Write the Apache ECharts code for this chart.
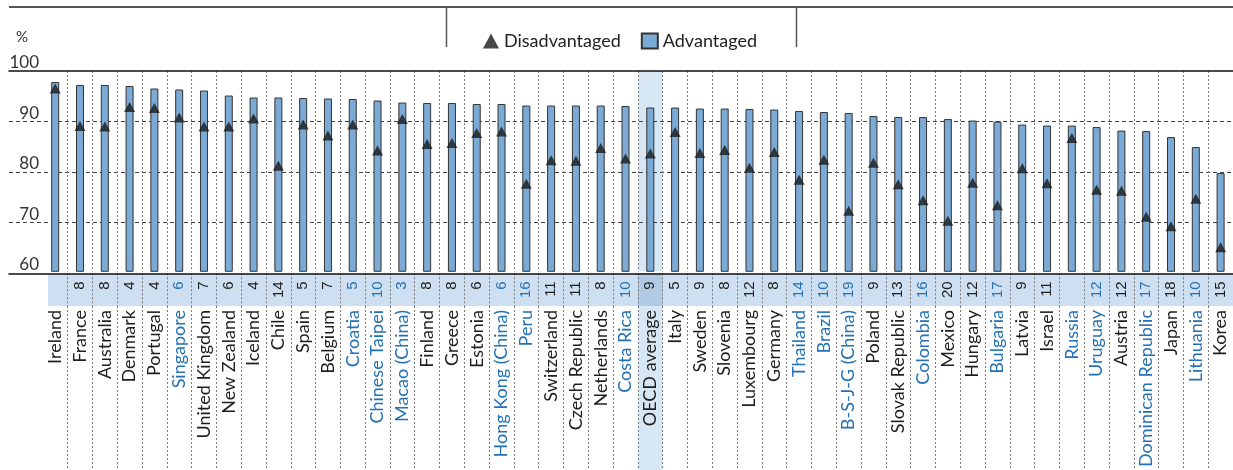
<!DOCTYPE html>
<html>
<head>
<meta charset="utf-8">
<script src="https://cdn.jsdelivr.net/npm/echarts@6/dist/echarts.min.js"></script>
<style>
  html, body { margin: 0; padding: 0; background: #ffffff; }
  #chart { width: 1233px; height: 470px; }
</style>
</head>
<body>
<div id="chart"></div>
<script>
// Countries / economies, sorted by the share among advantaged students
const categories = [
  'Ireland', 'France', 'Australia', 'Denmark', 'Portugal', 'Singapore', 'United Kingdom',
  'New Zealand', 'Iceland', 'Chile', 'Spain', 'Belgium', 'Croatia', 'Chinese Taipei',
  'Macao (China)', 'Finland', 'Greece', 'Estonia', 'Hong Kong (China)', 'Peru', 'Switzerland',
  'Czech Republic', 'Netherlands', 'Costa Rica', 'OECD average', 'Italy', 'Sweden', 'Slovenia',
  'Luxembourg', 'Germany', 'Thailand', 'Brazil', 'B-S-J-G (China)', 'Poland', 'Slovak Republic',
  'Colombia', 'Mexico', 'Hungary', 'Bulgaria', 'Latvia', 'Israel', 'Russia', 'Uruguay',
  'Austria', 'Dominican Republic', 'Japan', 'Lithuania', 'Korea'
];

// Percentage of advantaged students (bars)
const advantaged = [
  97.8, 97.2, 97.2, 97.0, 96.5, 96.3, 96.1,
  95.1, 94.7, 94.7, 94.6, 94.5, 94.4, 94.1,
  93.7, 93.6, 93.6, 93.4, 93.4, 93.1, 93.1,
  93.1, 93.1, 93.0, 92.7, 92.7, 92.5, 92.5,
  92.4, 92.3, 92.0, 91.8, 91.6, 91.0, 90.8,
  90.8, 90.4, 90.1, 89.9, 89.3, 89.1, 89.1, 88.8,
  88.1, 88.0, 86.8, 84.8, 79.6
];

// Percentage of disadvantaged students (triangles)
const disadvantaged = [
  96.5, 89.0, 88.9, 92.8, 92.6, 90.7, 88.9,
  88.9, 90.5, 81.1, 89.3, 87.1, 89.3, 84.1,
  90.4, 85.4, 85.6, 87.6, 87.9, 77.5, 82.2,
  82.1, 84.6, 82.5, 83.5, 87.8, 83.6, 84.2,
  80.7, 83.8, 78.3, 82.3, 72.1, 81.7, 77.4,
  74.2, 70.1, 77.7, 73.2, 80.6, 77.6, 86.6, 76.3,
  76.1, 70.9, 69.0, 74.5, 64.8
];

// Difference between advantaged and disadvantaged (blank where not significant)
const gapLabels = [
  '', '8', '8', '4', '4', '6', '7',
  '6', '4', '14', '5', '7', '5', '10',
  '3', '8', '8', '6', '6', '16', '11',
  '11', '8', '10', '9', '5', '9', '8',
  '12', '8', '14', '10', '19', '9', '13',
  '16', '20', '12', '17', '9', '11', '', '12',
  '12', '17', '18', '10', '15'
];

// Partner countries and economies, printed in blue
const partners = [
  'Singapore', 'Croatia', 'Chinese Taipei', 'Macao (China)', 'Hong Kong (China)', 'Peru',
  'Costa Rica', 'Thailand', 'Brazil', 'B-S-J-G (China)', 'Colombia', 'Bulgaria', 'Russia',
  'Uruguay', 'Dominican Republic', 'Lithuania'
];

const highlighted = 'OECD average';
const yMin = 60, yMax = 100, yStep = 10;

const INK = '#1e1e1e';
const BLUE = '#2371b6';
const TEXT_FONT = 'Lato, "Noto Sans", sans-serif';
const NUM_FONT = '"Liberation Sans", Arial, sans-serif';

// Shared plot geometry
const PLOT_TOP = 71;
const PLOT_H = 202.3;
const COLS_LEFT = 42.8;
const COLS_W = 1195.2;
const BAND_TOP = PLOT_TOP + PLOT_H;
const BAND_H = 32.7;

const dottedSplit = {
  show: true,
  interval: function (index) { return index !== 0; },
  lineStyle: { color: '#7a7a7a', width: 1, type: [2, 2] }
};

function categoryAxis(gridIndex, extra) {
  return Object.assign({
    type: 'category',
    gridIndex: gridIndex,
    data: categories,
    boundaryGap: true,
    axisLine: { show: false },
    axisTick: { show: false, interval: 0 },
    axisLabel: { show: false, interval: 0 },
    splitLine: dottedSplit,
    z: 2
  }, extra || {});
}

function hiddenValueAxis(gridIndex, extra) {
  return Object.assign({
    type: 'value', gridIndex: gridIndex, show: false, min: 0, max: 1
  }, extra || {});
}

function isPartner(name) { return partners.indexOf(name) >= 0; }

const chart = echarts.init(document.getElementById('chart'), null, { renderer: 'canvas' });

chart.setOption({
  animation: false,
  backgroundColor: '#ffffff',
  textStyle: { fontFamily: TEXT_FONT },
  legend: {
    left: 478,
    top: 27,
    itemWidth: 16,
    itemHeight: 15,
    itemGap: 20,
    selectedMode: false,
    textStyle: { fontSize: 18, color: '#222', fontFamily: TEXT_FONT },
    data: [
      { name: 'Disadvantaged', icon: 'triangle' },
      { name: 'Advantaged', icon: 'rect' }
    ]
  },
  graphic: [
    { type: 'line', shape: { x1: 9, y1: 7, x2: 1233, y2: 7 }, style: { stroke: '#555', lineWidth: 2 } },
    { type: 'line', shape: { x1: 446.5, y1: 7, x2: 446.5, y2: 47 }, style: { stroke: '#555', lineWidth: 1.5 } },
    { type: 'line', shape: { x1: 796.5, y1: 7, x2: 796.5, y2: 47 }, style: { stroke: '#555', lineWidth: 1.5 } }
  ],
  grid: [
    // frame: value scale, horizontal rules
    { left: 9, right: 0, top: PLOT_TOP, height: PLOT_H },
    // columns
    { left: COLS_LEFT, width: COLS_W, top: PLOT_TOP, height: PLOT_H },
    // shaded strip holding the differences
    { left: 48, right: 0, top: BAND_TOP, height: BAND_H, show: true, backgroundColor: '#cddff0', borderWidth: 0 },
    // strip columns
    { left: COLS_LEFT, width: COLS_W, top: BAND_TOP, height: BAND_H },
    // name area columns
    { left: COLS_LEFT, width: COLS_W, top: BAND_TOP + BAND_H, bottom: 0 }
  ],
  xAxis: [
    {
      type: 'value', gridIndex: 0, min: 0, max: 1, position: 'bottom',
      axisLine: { show: true, onZero: false, lineStyle: { color: '#111', width: 1.5 } },
      axisTick: { show: false }, axisLabel: { show: false }, splitLine: { show: false }, z: 3
    },
    {
      type: 'value', gridIndex: 0, min: 0, max: 1, position: 'top',
      axisLine: { show: true, onZero: false, lineStyle: { color: '#111', width: 1.5 } },
      axisTick: { show: false }, axisLabel: { show: false }, splitLine: { show: false }, z: 3
    },
    categoryAxis(1, {
      position: 'bottom',
      axisLabel: {
        show: true,
        interval: 0,
        rotate: 90,
        margin: 10,
        fontFamily: NUM_FONT,
        fontSize: 15,
        formatter: function (value, index) {
          const txt = gapLabels[index];
          if (!txt) return '';
          return (isPartner(value) ? '{p|' : '{o|') + txt + '}';
        },
        rich: {
          o: { color: INK, fontFamily: NUM_FONT, fontSize: 15 },
          p: { color: BLUE, fontFamily: NUM_FONT, fontSize: 15 }
        }
      }
    }),
    categoryAxis(1, {
      position: 'bottom',
      offset: BAND_H,
      splitLine: { show: false },
      axisLabel: {
        show: true,
        interval: 0,
        rotate: 90,
        margin: 6,
        fontFamily: TEXT_FONT,
        fontSize: 18,
        formatter: function (value) {
          return (isPartner(value) ? '{p|' : '{o|') + value + '}';
        },
        rich: {
          o: { color: INK, fontFamily: TEXT_FONT, fontSize: 18 },
          p: { color: BLUE, fontFamily: TEXT_FONT, fontSize: 18 }
        }
      }
    }),
    hiddenValueAxis(2),
    categoryAxis(3),
    categoryAxis(4)
  ],
  yAxis: [
    {
      type: 'value',
      gridIndex: 0,
      min: yMin,
      max: yMax,
      interval: yStep,
      name: '%',
      nameLocation: 'end',
      nameGap: 26,
      nameTextStyle: {
        fontSize: 15, color: '#333', fontFamily: TEXT_FONT,
        align: 'left', verticalAlign: 'bottom', padding: [0, 0, 0, 7]
      },
      axisLine: { show: false },
      axisTick: { show: false },
      axisLabel: {
        inside: true,
        margin: 30,
        align: 'right',
        verticalAlign: 'bottom',
        fontSize: 17,
        color: '#333',
        fontFamily: TEXT_FONT
      },
      splitLine: {
        show: true,
        showMinLine: false,
        showMaxLine: false,
        lineStyle: { color: '#444', width: 1.2, type: [4, 3] }
      },
      z: 2
    },
    { type: 'value', gridIndex: 1, min: yMin, max: yMax, show: false },
    hiddenValueAxis(2),
    hiddenValueAxis(3),
    hiddenValueAxis(4)
  ],
  series: [
    {
      name: 'Advantaged',
      type: 'bar',
      xAxisIndex: 2,
      yAxisIndex: 1,
      data: advantaged,
      barWidth: 8,
      barGap: '-100%',
      z: 3,
      itemStyle: { color: '#7aaad5', borderColor: '#333', borderWidth: 1 },
      markArea: {
        silent: true,
        z: 1,
        itemStyle: { color: '#d6e6f3' },
        data: [[{ xAxis: highlighted }, { xAxis: highlighted }]]
      }
    },
    {
      name: 'Disadvantaged',
      type: 'scatter',
      xAxisIndex: 2,
      yAxisIndex: 1,
      data: disadvantaged,
      symbol: 'triangle',
      symbolSize: [11, 10],
      z: 4,
      itemStyle: { color: '#1a1a1a' }
    },
    {
      name: 'strip',
      type: 'bar',
      xAxisIndex: 5,
      yAxisIndex: 3,
      data: [],
      markArea: {
        silent: true,
        z: 1,
        itemStyle: { color: '#b0cae3' },
        data: [[{ xAxis: highlighted }, { xAxis: highlighted }]]
      }
    },
    {
      name: 'names',
      type: 'bar',
      xAxisIndex: 6,
      yAxisIndex: 4,
      data: [],
      markArea: {
        silent: true,
        z: 1,
        itemStyle: { color: '#d6e6f3' },
        data: [[{ xAxis: highlighted }, { xAxis: highlighted }]]
      }
    }
  ]
});
</script>
</body>
</html>
